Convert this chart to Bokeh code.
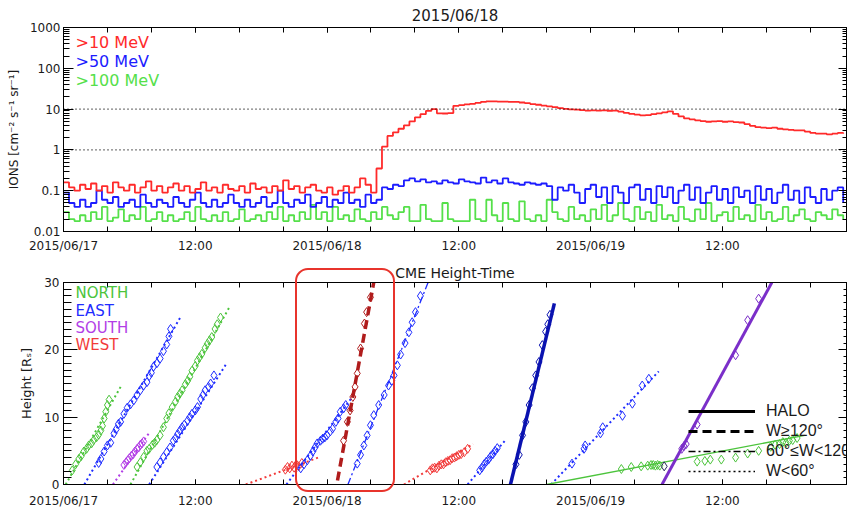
import numpy as np
from bokeh.plotting import figure
from bokeh.models import (LogAxis, LinearAxis, FixedTicker, SingleIntervalTicker,
                          Span, Label, Legend, LegendItem, Range1d, Div,
                          CustomJSTickFormatter)
from bokeh.layouts import column
from bokeh.embed import file_html
from bokeh.resources import INLINE

FONT = "DejaVu Sans"
LEG_FONT = "Liberation Sans"

# ---------------- axes / ticks ----------------
x_tick_hours = [0, 12, 24, 36, 48, 60]
x_tick_labels = ["2015/06/17", "12:00", "2015/06/18", "12:00", "2015/06/19", "12:00"]
x_minor_hours = [0, 4, 8, 12, 16, 20, 24, 28, 32, 36, 40, 44, 48, 52, 56, 60, 64, 68]
t_end_h = 71.3

flux_ticks = [0.01, 0.1, 1, 10, 100, 1000]
flux_tick_labels = ["0.01", "0.1", "1", "10", "100", "1000"]
flux_ref_levels = [1, 10]

# ---------------- proton flux (30-min steps from 2015/06/17 00:00) ----------------
flux_step_h = 0.5
flux_10mev = [
    0.16, 0.12, 0.10, 0.14, 0.11, 0.15, 0.10, 0.13, 0.09, 0.16,
    0.12, 0.10, 0.14, 0.09, 0.12, 0.17, 0.10, 0.13, 0.09, 0.12,
    0.15, 0.10, 0.13, 0.09, 0.11, 0.16, 0.10, 0.12, 0.09, 0.14,
    0.11, 0.10, 0.13, 0.09, 0.15, 0.11, 0.12, 0.09, 0.13, 0.10,
    0.18, 0.11, 0.13, 0.09, 0.12, 0.14, 0.10, 0.09, 0.12, 0.08,
    0.10, 0.13, 0.09, 0.12, 0.20, 0.14, 0.09,
    0.35, 1.2, 2.2, 2.7, 3.3, 4.0, 5.0, 6.3, 7.5, 9.0,
    10.0, 7.9, 7.8, 8.0, 12.0, 12.5, 13.0, 13.5, 14.2, 15.0,
    15.5, 15.5, 15.3, 15.2, 15.0, 15.0, 14.5, 14.0, 13.3, 12.8,
    12.2, 11.7, 11.2, 10.6, 10.1, 9.9, 9.7, 9.4, 9.2, 9.3,
    9.2, 9.3, 9.1, 9.2, 8.7, 8.1, 7.6, 7.3, 7.0, 7.1,
    7.5, 7.9, 8.3, 8.8, 7.6, 6.6, 5.9, 5.6, 5.3, 5.1,
    4.9, 5.0, 5.1, 4.9, 5.0, 4.8, 4.7, 4.3, 3.9, 3.6,
    3.5, 3.4, 3.5, 3.3, 3.2, 3.1, 3.0, 3.0, 2.8, 2.6,
    2.5, 2.5, 2.4, 2.5, 2.6, 2.5,
]
flux_50mev = [
    0.09, 0.05, 0.04, 0.06, 0.04, 0.05, 0.10, 0.06, 0.05, 0.07, 0.04, 0.05, 0.06, 0.04, 0.08, 0.05, 0.04, 0.06, 0.05, 0.04, 0.07,
    0.05, 0.04, 0.06, 0.09, 0.05, 0.04, 0.06, 0.04, 0.05, 0.08, 0.05, 0.04, 0.06, 0.04, 0.05, 0.07, 0.04, 0.05, 0.10, 0.05,
    0.04, 0.06, 0.05, 0.08, 0.04, 0.05, 0.07, 0.04, 0.06, 0.05, 0.09, 0.05, 0.06, 0.04, 0.08, 0.05, 0.06, 0.12,
    0.11, 0.14, 0.13, 0.18, 0.20, 0.17, 0.19, 0.16, 0.17, 0.15, 0.18, 0.16, 0.15, 0.19, 0.17, 0.16, 0.15, 0.21, 0.16, 0.18, 0.15, 0.20,
    0.16, 0.15, 0.14, 0.16, 0.15, 0.14, 0.15, 0.13, 0.06, 0.12, 0.10, 0.14, 0.09, 0.05, 0.11, 0.14, 0.07, 0.12, 0.05, 0.13,
    0.09, 0.05, 0.12, 0.14, 0.06, 0.11, 0.05, 0.13, 0.07, 0.12, 0.05, 0.10, 0.14, 0.06, 0.12, 0.05, 0.09, 0.13, 0.06, 0.11,
    0.05, 0.12, 0.07, 0.10, 0.05, 0.13, 0.06, 0.11, 0.05, 0.09, 0.14, 0.06, 0.10, 0.05, 0.12, 0.07, 0.05, 0.11, 0.06, 0.10, 0.12, 0.05,
]
flux_100mev = [
    0.03, 0.02, 0.018, 0.025, 0.018, 0.03, 0.02, 0.04, 0.018, 0.022, 0.035, 0.018, 0.025, 0.02, 0.04, 0.018, 0.02, 0.03, 0.018, 0.025, 0.018,
    0.02, 0.03, 0.018, 0.04, 0.02, 0.018, 0.025, 0.018, 0.03, 0.018, 0.02, 0.035, 0.018, 0.02, 0.025, 0.018, 0.03, 0.02, 0.04, 0.018,
    0.025, 0.018, 0.03, 0.02, 0.045, 0.02, 0.03, 0.018, 0.04, 0.02, 0.025, 0.018, 0.035, 0.02, 0.018, 0.03, 0.02, 0.04,
    0.025, 0.02, 0.03, 0.04, 0.018, 0.018, 0.045, 0.02, 0.018, 0.018, 0.05, 0.02, 0.018, 0.018, 0.018, 0.06, 0.02, 0.018, 0.06, 0.025, 0.018, 0.05,
    0.02, 0.018, 0.055, 0.02, 0.018, 0.025, 0.018, 0.06, 0.03, 0.02, 0.018, 0.04, 0.02, 0.025, 0.018, 0.035, 0.02, 0.045, 0.018, 0.025,
    0.05, 0.02, 0.018, 0.04, 0.02, 0.03, 0.018, 0.045, 0.02, 0.025, 0.018, 0.04, 0.02, 0.018, 0.035, 0.02, 0.05, 0.018, 0.025, 0.03,
    0.018, 0.04, 0.02, 0.025, 0.018, 0.045, 0.02, 0.03, 0.018, 0.02, 0.04, 0.018, 0.025, 0.035, 0.02, 0.018, 0.03, 0.025, 0.02, 0.035, 0.025, 0.02,
]

# ---------------- CME height-time (hours from 2015/06/17 00:00, height in Rs) ----------------
north1_fit_t = [0.2, 5.2];   north1_fit_h = [0.0, 14.5]
north1_t = [0.8, 1.1, 1.4, 1.6, 1.85, 2.1, 2.3, 2.55, 2.75, 3.0, 3.2, 3.4, 3.55, 3.7, 3.85, 4.0, 4.15]
north1_h = [2.1, 3.0, 3.8, 4.2, 4.9, 5.3, 5.8, 6.1, 6.6, 7.0, 7.4, 8.0, 8.7, 9.8, 10.8, 11.8, 12.6]

east1_fit_t = [1.9, 10.7];   east1_fit_h = [0.0, 25.0]
east1_t = [3.2, 3.4, 3.7, 4.0, 4.3, 4.6, 4.8, 5.0, 5.2, 5.5, 5.8, 6.1, 6.4, 6.7, 7.0, 7.3, 7.6, 7.8, 8.0, 8.2, 8.5, 8.8, 9.1, 9.4, 9.6, 9.75]
east1_h = [3.2, 3.8, 4.9, 5.8, 6.2, 7.6, 8.2, 9.0, 9.3, 10.5, 11.4, 11.9, 12.5, 13.3, 14.0, 14.7, 15.2, 16.1, 16.6, 17.5, 18.0, 18.7, 19.8, 20.8, 22.0, 23.1]

south1_fit_t = [4.5, 7.9];   south1_fit_h = [0.0, 7.9]
south1_t = [5.5, 5.7, 5.85, 6.0, 6.2, 6.35, 6.5, 6.7, 6.85, 7.0, 7.15, 7.3]
south1_h = [2.9, 3.3, 3.6, 3.9, 4.3, 4.5, 4.9, 5.3, 5.5, 5.9, 6.1, 6.4]

north2_fit_t = [6.1, 15.2];  north2_fit_h = [0.0, 26.6]
north2_t = [6.7, 7.0, 7.3, 7.6, 7.8, 8.1, 8.3, 8.5, 8.8, 9.1, 9.4, 9.6, 9.9, 10.2, 10.4, 10.6, 10.8, 11.1, 11.3, 11.5, 11.7, 12.0, 12.2, 12.4, 12.6, 12.9, 13.1, 13.3, 13.5, 13.8, 14.0, 14.3]
north2_h = [2.6, 3.3, 4.1, 5.0, 5.3, 5.9, 6.2, 6.6, 7.3, 8.5, 9.8, 10.6, 11.5, 12.3, 13.0, 13.5, 14.0, 14.9, 15.4, 16.0, 16.9, 17.6, 18.4, 18.9, 19.4, 20.3, 20.9, 21.4, 21.9, 23.1, 23.8, 24.8]

east2_fit_t = [7.8, 14.9];   east2_fit_h = [0.0, 18.1]
east2_t = [8.5, 8.8, 9.1, 9.4, 9.7, 10.0, 10.2, 10.4, 10.6, 10.8, 11.0, 11.3, 11.5, 11.7, 12.0, 12.2, 12.5, 12.7, 12.9, 13.2, 13.4, 13.7]
east2_h = [2.6, 3.3, 4.1, 4.8, 5.5, 6.5, 6.9, 7.5, 8.0, 8.5, 8.9, 9.5, 10.0, 10.5, 11.0, 11.5, 12.7, 13.3, 14.0, 14.5, 15.0, 16.2]

west1_fit_t = [16.6, 23.2];  west1_fit_h = [0.0, 4.0]
west1_t = [20.2, 20.4, 20.6, 20.8, 21.0, 21.2, 21.4, 21.7]
west1_h = [2.2, 2.6, 2.4, 2.8, 2.5, 3.0, 2.7, 3.2]

east3_fit_t = [20.3, 26.3];  east3_fit_h = [0.0, 13.0]
east3_t = [21.6, 21.9, 22.2, 22.5, 22.7, 22.9, 23.1, 23.4, 23.6, 23.8, 24.0, 24.3, 24.5, 24.8, 25.0, 25.2, 25.5, 25.7]
east3_h = [2.4, 3.0, 3.6, 4.3, 4.9, 5.5, 6.1, 6.5, 6.8, 7.0, 7.3, 7.9, 8.3, 9.3, 9.8, 10.8, 11.3, 11.8]

west2_fit_t = [24.95, 28.25]; west2_fit_h = [0.6, 30.0]
west2_t = [25.5, 25.85, 26.1, 26.35, 26.55, 26.75, 27.05, 27.4, 27.6, 27.95]
west2_h = [6.5, 9.3, 11.0, 13.0, 14.5, 16.5, 20.2, 23.9, 25.6, 27.8]

east4_fit_t = [25.9, 33.2];  east4_fit_h = [0.0, 30.0]
east4_t = [26.75, 27.05, 27.35, 27.65, 27.95, 28.25, 28.7, 29.2, 29.6, 29.9, 30.1, 30.4, 30.7, 31.1, 31.45, 31.75, 32.05, 32.5]
east4_h = [3.1, 4.4, 5.8, 7.3, 8.8, 10.3, 11.8, 13.3, 14.7, 15.4, 16.2, 17.7, 19.3, 21.0, 22.6, 24.1, 25.6, 28.0]

west3_fit_t = [31.0, 37.3];  west3_fit_h = [0.0, 6.0]
west3_t = [33.4, 33.6, 33.8, 34.0, 34.2, 34.4, 34.6, 34.8, 35.0, 35.2, 35.4, 35.6, 35.8, 36.0, 36.2, 36.5, 36.8]
west3_h = [2.1, 2.4, 2.5, 2.4, 2.8, 3.0, 3.0, 3.3, 3.5, 3.6, 3.9, 4.0, 4.2, 4.4, 4.5, 4.8, 5.3]

east5_fit_t = [36.8, 40.3];  east5_fit_h = [0.0, 6.7]
east5_t = [37.9, 38.1, 38.3, 38.5, 38.7, 38.9, 39.1, 39.3, 39.5]
east5_h = [2.1, 2.5, 3.0, 3.4, 3.7, 4.2, 4.5, 5.0, 5.4]

east6_fit_t = [40.7, 44.7];  east6_fit_h = [0.0, 26.9]
east6_t = [41.2, 41.5, 41.8, 42.1, 42.4, 42.7, 43.0, 43.3, 43.6, 43.9, 44.1, 44.3]
east6_h = [3.0, 4.4, 7.3, 9.3, 11.8, 14.3, 16.2, 18.2, 20.7, 22.7, 23.8, 25.2]

east7_fit_t = [44.4, 54.2];  east7_fit_h = [0.0, 16.8]
east7_t = [46.3, 47.4, 47.5, 48.9, 49.1, 50.9, 51.8, 52.7, 53.3]
east7_h = [3.1, 5.3, 5.8, 7.6, 8.5, 10.2, 12.0, 14.7, 15.7]

north3_fit_t = [44.0, 67.5]; north3_fit_h = [0.0, 7.3]
north3_t = [50.8, 51.7, 52.6, 53.2, 53.5, 53.7, 53.9, 54.1, 54.3, 57.7, 58.4, 58.9, 59.9, 61.2, 62.3, 63.3, 64.4, 64.8, 65.2, 65.5, 65.8, 66.1, 66.4, 66.8]
north3_h = [2.3, 2.6, 2.7, 2.8, 2.9, 2.9, 2.8, 2.9, 2.8, 3.4, 3.5, 3.7, 3.7, 4.0, 4.6, 5.0, 5.6, 5.9, 6.0, 6.3, 6.2, 6.5, 6.6, 6.9]

south2_fit_t = [54.5, 64.5]; south2_fit_h = [0.0, 30.0]
south2_t = [56.3, 56.5, 56.7, 57.7, 61.2, 62.3, 63.3]
south2_h = [5.3, 5.7, 6.0, 8.9, 19.2, 24.4, 27.6]

other_t = [54.7]
other_h = [2.7]

width_classes = ["HALO", "W\u2265120\u00b0", "60\u00b0\u2264W<120\u00b0", "W<60\u00b0"]
directions = ["NORTH", "EAST", "SOUTH", "WEST"]

# ---------------- styles / layout ----------------
RED, BLUE, GREEN = "#ff2a2a", "#1c1cff", "#55e04a"
NORTH_C, EAST_C, SOUTH_C, WEST_C = "#4cc43c", "#1f2dff", "#b23ee6", "#f23a3a"
WEST_DARK, EAST_DARK, SOUTH_DARK = "#b01c1c", "#0a12b0", "#7b2fc9"
DOT, DASH, DASHDOT, SOLID = "2 3", "9 5", "7 3 2 3", "solid"
PAGE_H = 512
HIGHLIGHT_PX = dict(left=295, top=268, width=100, height=224)   # rounded red frame (page px)

cmes = [
    (north1_fit_t, north1_fit_h, north1_t, north1_h, NORTH_C, DOT, 2.0),
    (east1_fit_t, east1_fit_h, east1_t, east1_h, EAST_C, DOT, 2.0),
    (south1_fit_t, south1_fit_h, south1_t, south1_h, SOUTH_C, DOT, 2.0),
    (north2_fit_t, north2_fit_h, north2_t, north2_h, NORTH_C, DOT, 2.0),
    (east2_fit_t, east2_fit_h, east2_t, east2_h, EAST_C, DOT, 2.0),
    (west1_fit_t, west1_fit_h, west1_t, west1_h, WEST_C, DOT, 2.0),
    (east3_fit_t, east3_fit_h, east3_t, east3_h, EAST_C, DOT, 2.0),
    (west2_fit_t, west2_fit_h, west2_t, west2_h, WEST_DARK, DASH, 3.5),
    (east4_fit_t, east4_fit_h, east4_t, east4_h, EAST_C, DASHDOT, 1.3),
    (west3_fit_t, west3_fit_h, west3_t, west3_h, WEST_C, DOT, 2.0),
    (east5_fit_t, east5_fit_h, east5_t, east5_h, EAST_C, DOT, 2.0),
    (east6_fit_t, east6_fit_h, east6_t, east6_h, EAST_DARK, SOLID, 3.5),
    (east7_fit_t, east7_fit_h, east7_t, east7_h, EAST_C, DOT, 2.0),
    (north3_fit_t, north3_fit_h, north3_t, north3_h, NORTH_C, SOLID, 1.4),
    (south2_fit_t, south2_fit_h, south2_t, south2_h, SOUTH_DARK, SOLID, 3.0),
]

BLANK = CustomJSTickFormatter(code="return ''")


def style_axis(ax, major_in, minor_in, labels=True, size="12px"):
    ax.axis_line_color = "black"
    ax.axis_line_width = 1
    ax.major_tick_line_color = "black"
    ax.minor_tick_line_color = "black"
    ax.major_tick_in = major_in
    ax.major_tick_out = 0
    ax.minor_tick_in = minor_in
    ax.minor_tick_out = 0
    ax.major_label_text_font = FONT
    ax.major_label_text_color = "#1a1a1a"
    if labels:
        ax.major_label_text_font_size = size
    else:
        ax.formatter = BLANK
        ax.major_label_text_font_size = "1px"
        ax.major_label_standoff = 0
    ax.axis_label_text_font = FONT
    ax.axis_label_text_font_style = "normal"
    ax.axis_label_text_color = "#1a1a1a"


def x_ticker():
    return FixedTicker(ticks=x_tick_hours, minor_ticks=x_minor_hours)


x_overrides = {h: lab for h, lab in zip(x_tick_hours, x_tick_labels)}

# ================= top panel =================
p1 = figure(width=847, height=256, x_range=Range1d(0, t_end_h), y_range=Range1d(0.01, 1000),
            y_axis_type="log", output_backend="svg", toolbar_location=None,
            min_border_left=63, min_border_right=1, min_border_top=27, min_border_bottom=25)
p1.grid.visible = False
p1.outline_line_color = "black"
p1.title.text = "2015/06/18"
p1.title.align = "center"
p1.title.text_font = FONT
p1.title.text_font_size = "15px"
p1.title.text_font_style = "normal"
p1.title.text_color = "#1a1a1a"
p1.title.standoff = 5

for lv in flux_ref_levels:
    p1.add_layout(Span(location=lv, dimension="width", line_color="black",
                       line_dash="1 3", line_width=1.2))

for series, col in ((flux_100mev, GREEN), (flux_50mev, BLUE), (flux_10mev, RED)):
    tt = flux_step_h * np.arange(len(series))
    p1.step(tt, series, mode="after", line_color=col, line_width=1.8)

log_minor = [m * 10.0 ** e for e in range(-2, 3) for m in range(2, 10)]
yl = p1.yaxis[0]
yl.ticker = FixedTicker(ticks=flux_ticks, minor_ticks=log_minor)
yl.major_label_overrides = {v: s for v, s in zip(flux_ticks, flux_tick_labels)}
style_axis(yl, 10, 6)
yl.major_label_standoff = 3
yl.axis_label = "IONS [cm\u207b\u00b2 s\u207b\u00b9 sr\u207b\u00b9]"
yl.axis_label_text_font_size = "12px"
yl.axis_label_standoff = 6

xb = p1.xaxis[0]
xb.ticker = x_ticker()
xb.major_label_overrides = x_overrides
style_axis(xb, 5, 5)
xb.major_label_standoff = 7

yr = LogAxis(ticker=FixedTicker(ticks=flux_ticks, minor_ticks=log_minor))
style_axis(yr, 8, 4, labels=False)
p1.add_layout(yr, "right")
xt = LinearAxis(ticker=x_ticker())
style_axis(xt, 5, 5, labels=False)
p1.add_layout(xt, "above")

for txt, col, ys in ((">10 MeV", RED, 189), (">50 MeV", BLUE, 170), (">100 MeV", GREEN, 151)):
    p1.add_layout(Label(x=12, y=ys, x_units="screen", y_units="screen", text=txt,
                        text_color=col, text_font=FONT, text_font_size="16px",
                        text_baseline="middle"))

# ================= bottom panel =================
p2 = figure(width=847, height=256, x_range=Range1d(0, t_end_h), y_range=Range1d(0, 30),
            output_backend="svg", toolbar_location=None,
            min_border_left=63, min_border_right=1, min_border_top=26, min_border_bottom=28)
p2.grid.visible = False
p2.outline_line_color = "black"
p2.title.text = "CME Height-Time"
p2.title.align = "center"
p2.title.text_font = FONT
p2.title.text_font_size = "14px"
p2.title.text_font_style = "normal"
p2.title.text_color = "#1a1a1a"
p2.title.standoff = 4

for fit_t, fit_h, tt, hh, col, dash, lw in cmes:
    p2.line(fit_t, fit_h, line_color=col, line_dash=dash, line_width=lw)
    p2.scatter(tt, hh, marker="diamond", size=9, fill_color=None, line_color=col, line_width=1)
p2.scatter(other_t, other_h, marker="diamond", size=9, fill_color=None, line_color="#2a2a5a", line_width=1)

yl2 = p2.yaxis[0]
yl2.ticker = SingleIntervalTicker(interval=10, num_minor_ticks=10)
style_axis(yl2, 14, 8)
yl2.major_label_standoff = 4
yl2.axis_label = "Height [R\u209b]"
yl2.axis_label_text_font_size = "13px"
yl2.axis_label_standoff = 7

xb2 = p2.xaxis[0]
xb2.ticker = x_ticker()
xb2.major_label_overrides = x_overrides
style_axis(xb2, 5, 5)
xb2.major_label_standoff = 9

yr2 = LinearAxis(ticker=SingleIntervalTicker(interval=10, num_minor_ticks=10))
style_axis(yr2, 8, 3, labels=False)
p2.add_layout(yr2, "right")
xt2 = LinearAxis(ticker=x_ticker())
style_axis(xt2, 5, 5, labels=False)
p2.add_layout(xt2, "above")

for txt, col, ys in zip(directions, (NORTH_C, EAST_C, SOUTH_C, WEST_C), (192, 174, 157, 140)):
    p2.add_layout(Label(x=12, y=ys, x_units="screen", y_units="screen", text=txt,
                        text_color=col, text_font=FONT, text_font_size="15px",
                        text_baseline="middle"))

leg_styles = [(SOLID, 3.0), (DASH, 3.0), (DASHDOT, 1.3), (DOT, 1.5)]
items = []
for lab, (dash, lw) in zip(width_classes, leg_styles):
    r = p2.line([np.nan, np.nan], [np.nan, np.nan], line_color="black", line_dash=dash, line_width=lw)
    items.append(LegendItem(label=lab, renderers=[r]))
legend = Legend(items=items, location=(625, 3), orientation="vertical",
                background_fill_alpha=0, border_line_alpha=0, glyph_width=67,
                glyph_height=20, label_height=20, spacing=0, padding=0, margin=0,
                label_standoff=11, label_text_font=LEG_FONT, label_text_font_size="16px",
                label_text_color="#1a1a1a")
p2.add_layout(legend)

# rounded red highlight frame that overlaps the plot border (zero-height overlay)
hb = HIGHLIGHT_PX
box_html = (
    '<div style="position:absolute; left:%dpx; top:%dpx; width:%dpx; height:%dpx; '
    'border:2px solid #e8342c; border-radius:13px; box-sizing:border-box; '
    'pointer-events:none; z-index:10;"></div>'
    % (hb["left"], hb["top"] - PAGE_H, hb["width"], hb["height"])
)
overlay = Div(text=box_html, width=847, height=0, margin=0,
              styles={"position": "relative", "overflow": "visible", "z-index": "10"})

layout = column(p1, p2, overlay, spacing=0)
open("out.html", "w").write(file_html(layout, INLINE))
